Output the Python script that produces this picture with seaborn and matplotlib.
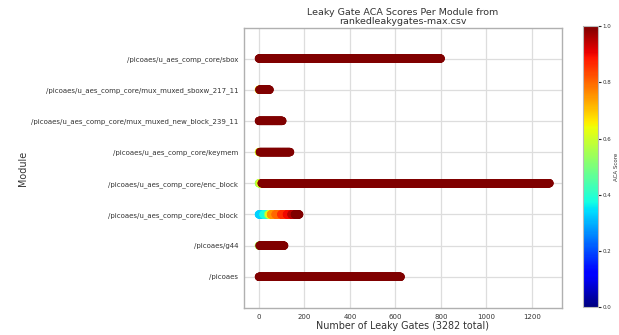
import numpy as np
import pandas as pd
import matplotlib
matplotlib.use("Agg")
import matplotlib.pyplot as plt
import seaborn as sns

# Modules, top to bottom
modules = [
    "/picoaes/u_aes_comp_core/sbox",
    "/picoaes/u_aes_comp_core/mux_muxed_sboxw_217_11",
    "/picoaes/u_aes_comp_core/mux_muxed_new_block_239_11",
    "/picoaes/u_aes_comp_core/keymem",
    "/picoaes/u_aes_comp_core/enc_block",
    "/picoaes/u_aes_comp_core/dec_block",
    "/picoaes/g44",
    "/picoaes",
]

# Leaky gates per module as runs of (count, ACA score), sorted by score
sbox_counts, sbox_scores = [800], [1.0]
sboxw_counts, sboxw_scores = [2, 46], [0.65, 1.0]
newblock_counts, newblock_scores = [104], [1.0]
keymem_counts, keymem_scores = [4, 134], [0.62, 1.0]
enc_counts, enc_scores = [6, 6, 1266], [0.55, 0.62, 1.0]
dec_counts = [20, 20, 5, 8, 20, 25, 25, 20, 15, 20]
dec_scores = [0.33, 0.38, 0.50, 0.62, 0.75, 0.80, 0.86, 0.90, 0.95, 1.0]
g44_counts, g44_scores = [3, 109], [0.55, 1.0]
pico_counts, pico_scores = [624], [1.0]

runs = [
    (sbox_counts, sbox_scores),
    (sboxw_counts, sboxw_scores),
    (newblock_counts, newblock_scores),
    (keymem_counts, keymem_scores),
    (enc_counts, enc_scores),
    (dec_counts, dec_scores),
    (g44_counts, g44_scores),
    (pico_counts, pico_scores),
]

frames = []
for name, (counts, scores) in zip(modules, runs):
    s = np.repeat(scores, counts)
    frames.append(pd.DataFrame({"Module": name, "Gate": np.arange(len(s)), "Score": s}))
df = pd.concat(frames, ignore_index=True)
total = len(df)

sns.set_style("whitegrid")
plt.rcParams["font.family"] = ["DejaVu Sans"]

jet = matplotlib.colormaps["jet"]

fig = plt.figure(figsize=(6.19, 3.35), dpi=100)
ax = fig.add_axes([0.394, 0.0806, 0.514, 0.835])

sns.scatterplot(data=df, x="Gate", y="Module", hue="Score", palette=jet,
                hue_norm=(0, 1), legend=False, s=36, linewidth=0, ax=ax)

ax.set_ylim(8.0, -0.97)
ax.set_xlim(-66, 1332)
ax.set_xticks([0, 200, 400, 600, 800, 1000, 1200])
ax.tick_params(axis="both", length=2.5, width=1.6, color="black",
               labelsize=5.0, labelcolor="#333333", pad=1.5)
ax.grid(True, color="#dddddd", linewidth=0.9)
for sp in ax.spines.values():
    sp.set_color("#b0b0b0")
    sp.set_linewidth(1.0)

ax.set_xlabel(f"Number of Leaky Gates ({total} total)", fontsize=6.9,
              color="#333333", labelpad=1)
ax.set_ylabel("Module", fontsize=6.9, color="#333333")
ax.yaxis.set_label_coords(-0.68, 0.5)
ax.set_title("Leaky Gate ACA Scores Per Module from\nrankedleakygates-max.csv",
             fontsize=6.8, color="#333333", pad=3, linespacing=1.0)

cax = fig.add_axes([0.942, 0.0836, 0.024, 0.838])
sm = plt.cm.ScalarMappable(cmap=jet, norm=plt.Normalize(0, 1))
cb = fig.colorbar(sm, cax=cax)
cb.set_ticks([0.0, 0.2, 0.4, 0.6, 0.8, 1.0])
cb.ax.tick_params(labelsize=4.0, length=2, width=0.8, labelcolor="#333333", pad=1.5)
cb.set_label("ACA Score", fontsize=4.0, color="#333333", labelpad=2)
cb.outline.set_edgecolor("#bbbbbb")

fig.savefig("out.png", dpi=100)
